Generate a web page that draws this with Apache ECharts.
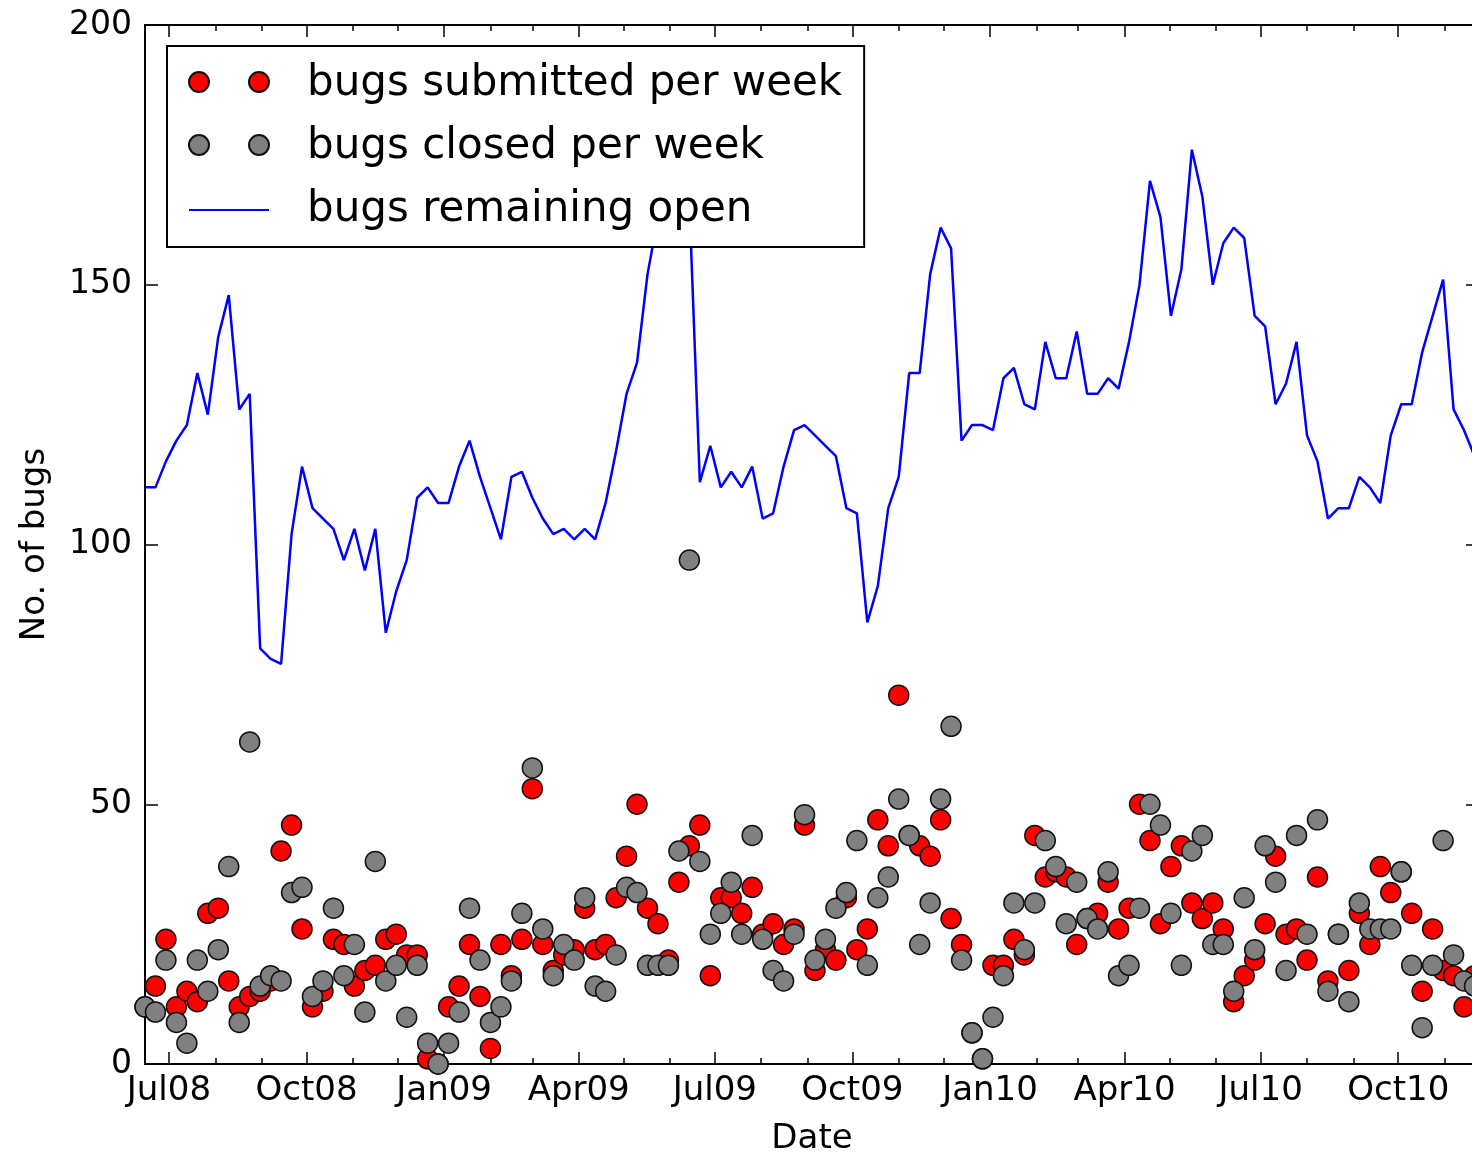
<!DOCTYPE html>
<html>
<head>
<meta charset="utf-8">
<script src="https://cdn.jsdelivr.net/npm/echarts@6/dist/echarts.min.js"></script>
<style>
html,body{margin:0;padding:0;overflow:hidden;background:#fff;width:1472px;height:1152px;}
#chart{width:1560px;height:1152px;}
</style>
</head>
<body>
<div id="chart"></div>
<script>
// ---- data (weekly, first week starting 2008-06-15) ----
const startDate = '2008-06-15';
const submittedPerWeek = [
 11,15,24,11,14,12,29,30,16,11,
 13,14,16,41,46,26,11,14,24,23,
 15,18,19,24,25,21,21,1,0,11,
 15,23,13,3,23,17,24,53,23,18,
 21,22,30,22,23,32,40,50,30,27,
 20,35,42,46,17,32,32,29,34,25,
 27,23,26,46,18,22,20,32,22,26,
 47,42,71,44,42,40,47,28,23,6,
 1,19,19,24,21,44,36,37,36,23,
 28,29,35,26,30,50,43,27,38,42,
 31,28,31,26,12,17,20,27,40,25,
 26,20,36,16,25,18,29,23,38,33,
 37,29,14,26,18,17,11,17
];
const closedPerWeek = [
 11,10,20,8,4,20,14,22,38,8,
 62,15,17,16,33,34,13,16,30,17,
 23,10,39,16,19,9,19,4,0,4,
 10,30,20,8,11,16,29,57,26,17,
 23,20,32,15,14,21,34,33,19,19,
 19,41,97,39,25,29,35,25,44,24,
 18,16,25,48,20,24,30,33,43,19,
 32,36,51,44,23,31,51,65,20,6,
 1,9,17,31,22,31,43,38,27,35,
 28,26,37,17,19,30,50,46,29,19,
 41,44,23,23,14,32,22,42,35,18,
 44,25,47,14,25,12,31,26,26,26,
 37,19,7,19,43,21,16,15
];
const remainingOpen = [
 111,111,116,120,123,133,125,140,148,126,
 129,80,78,77,102,115,107,105,103,97,
 103,95,103,83,91,97,109,111,108,108,
 115,120,113,107,101,113,114,109,105,102,
 103,101,103,101,108,118,129,135,152,163,
 171,172,166,112,119,111,114,111,115,105,
 106,115,122,123,121,119,117,107,106,85,
 92,107,113,133,133,152,161,157,120,123,
 123,122,132,134,127,126,139,132,132,141,
 129,129,132,130,139,150,170,163,144,153,
 176,167,150,158,161,159,144,142,127,131,
 139,121,116,105,107,107,113,111,108,121,
 127,127,137,144,151,126,122,117
];
const quarterTicks = ['2008-07-01','2008-10-01','2009-01-01','2009-04-01','2009-07-01','2009-10-01','2010-01-01','2010-04-01','2010-07-01','2010-10-01'];
const quarterLabels = ['Jul08','Oct08','Jan09','Apr09','Jul09','Oct09','Jan10','Apr10','Jul10','Oct10'];
const yTicks = [0, 50, 100, 150, 200];
const seriesNames = ['bugs submitted per week', 'bugs closed per week', 'bugs remaining open'];

// ---- helpers ----
const DAY = 86400000;
function ts(s){ const p = s.split('-').map(Number); return Date.UTC(p[0], p[1]-1, p[2]); }
const t0 = ts(startDate);
const weekDates = remainingOpen.map((_, i) => t0 + i * 7 * DAY);
const xMin = weekDates[0];
const xMax = weekDates[weekDates.length - 1] + 3 * DAY;
const quarterValues = quarterTicks.map(ts);
const labelOf = {};
quarterValues.forEach((v, i) => { labelOf[v] = quarterLabels[i]; });
const monthValues = [];
for (let y = 2008; y <= 2011; y++) for (let m = 0; m < 12; m++) {
  const v = Date.UTC(y, m, 1);
  if (v >= xMin && v <= xMax) monthValues.push(v);
}
const FONT = 'DejaVu Sans';
const black = '#000';

function xAx(pos, values, len, showLine, showLabel, extra) {
  return Object.assign({
    type: 'value', position: pos, min: xMin, max: xMax, scale: true,
    splitLine: { show: false },
    axisLine: { show: showLine, onZero: false, lineStyle: { color: black, width: 2 } },
    axisTick: { show: true, inside: true, length: len, customValues: values, lineStyle: { color: black, width: 1.5 } },
    axisLabel: showLabel ? {
      show: true, customValues: values, formatter: v => labelOf[v] || '',
      margin: 10, color: black, fontFamily: FONT, fontSize: 34
    } : { show: false }
  }, extra || {});
}
function yAx(pos, showLabel, extra) {
  return Object.assign({
    type: 'value', position: pos, min: yTicks[0], max: yTicks[yTicks.length - 1], interval: 50,
    splitLine: { show: false },
    axisLine: { show: true, onZero: false, lineStyle: { color: black, width: 2 } },
    axisTick: { show: true, inside: true, length: 13, lineStyle: { color: black, width: 1.5 } },
    axisLabel: showLabel ? { show: true, margin: 13, color: black, fontFamily: FONT, fontSize: 33 } : { show: false }
  }, extra || {});
}

// two markers side by side (box 80 x 24, circles centred 2px above middle)
const twoDots = 'path://M0,24M0,10A10,10,0,1,0,20,10A10,10,0,1,0,0,10ZM60,10A10,10,0,1,0,80,10A10,10,0,1,0,60,10Z';

const chart = echarts.init(document.getElementById('chart'), null, { renderer: 'canvas' });
chart.setOption({
  animation: false,
  backgroundColor: '#fff',
  grid: { left: 145, top: 25, width: 1334, height: 1039, containLabel: false, outerBoundsMode: 'none' },
  xAxis: [
    xAx('bottom', quarterValues, 12, true, true, {
      name: 'Date', nameLocation: 'middle', nameGap: 58,
      nameTextStyle: { color: black, fontFamily: FONT, fontSize: 34 }
    }),
    xAx('bottom', monthValues, 6, false, false),
    xAx('top', quarterValues, 12, true, false),
    xAx('top', monthValues, 6, false, false)
  ],
  yAxis: [
    yAx('left', true, {
      name: 'No. of bugs', nameLocation: 'middle', nameGap: 93,
      nameTextStyle: { color: black, fontFamily: FONT, fontSize: 34 }
    }),
    yAx('right', false)
  ],
  legend: {
    left: 167, top: 46, orient: 'vertical',
    padding: [16, 22, 15, 21],
    itemWidth: 80, itemHeight: 24, itemGap: 19,
    backgroundColor: '#fff', borderColor: black, borderWidth: 2,
    selectedMode: false,
    textStyle: { color: black, fontFamily: FONT, fontSize: 42, lineHeight: 44, padding: [0, 0, 0, 33] },
    data: [
      { name: seriesNames[0], icon: twoDots },
      { name: seriesNames[1], icon: twoDots },
      { name: seriesNames[2], itemStyle: { color: 'rgba(0,0,0,0)', borderColor: 'rgba(0,0,0,0)', borderWidth: 0, opacity: 0 } }
    ]
  },
  series: [
    {
      type: 'line', name: seriesNames[2], xAxisIndex: 0, yAxisIndex: 0,
      data: weekDates.map((d, i) => [d, remainingOpen[i]]),
      symbol: 'none', showSymbol: false, clip: true,
      lineStyle: { color: '#0000ff', width: 2.5 }, itemStyle: { color: '#0000ff' },
      silent: true
    },
    {
      type: 'scatter', name: seriesNames[0], xAxisIndex: 0, yAxisIndex: 0,
      data: weekDates.map((d, i) => [d, submittedPerWeek[i]]),
      symbol: 'circle', symbolSize: 20, clip: true,
      itemStyle: { color: '#ff0000', borderColor: '#111', borderWidth: 1.5, opacity: 1 },
      silent: true
    },
    {
      type: 'scatter', name: seriesNames[1], xAxisIndex: 0, yAxisIndex: 0,
      data: weekDates.map((d, i) => [d, closedPerWeek[i]]),
      symbol: 'circle', symbolSize: 20, clip: true,
      itemStyle: { color: '#808080', borderColor: '#111', borderWidth: 1.5, opacity: 1 },
      silent: true
    }
  ]
});
</script>
</body>
</html>
